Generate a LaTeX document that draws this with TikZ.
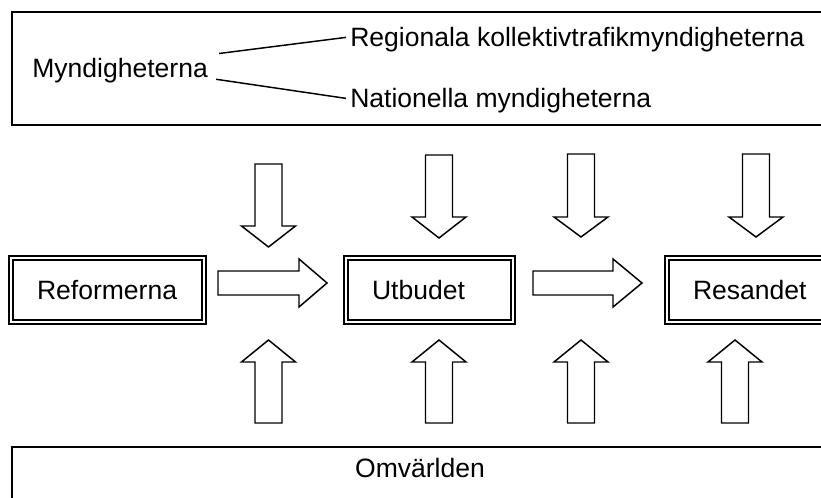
\documentclass[tikz,border=0pt]{standalone}
\usepackage{fontspec}
\setmainfont{Liberation Sans}
\usepackage{tikz}

% block arrows, coordinates in pixels
\newcommand{\pilvert}[4]{%
  \draw[block pil] (#1-13.5,#2) -- (#1-13.5,#3) -- (#1-27,#3) -- (#1,#4)
    -- (#1+27,#3) -- (#1+13.5,#3) -- (#1+13.5,#2) -- cycle;}
\newcommand{\pilhoger}[4]{%
  \draw[block pil] (#1,#4-12) -- (#2,#4-12) -- (#2,#4-24) -- (#3,#4)
    -- (#2,#4+24) -- (#2,#4+12) -- (#1,#4+12) -- cycle;}

\begin{document}
\begin{tikzpicture}[x=0.75pt,y=-0.75pt,
					font=\fontsize{19.9}{23}\selectfont,
					label node/.style={inner sep=0pt,text depth=0pt},
					main node/.style={draw,double,line width=1.5pt,double distance=1.5pt,
					  inner xsep=19.5pt,minimum height=48pt,align=left,
					  anchor=west,outer sep=0pt},
					frame/.style={draw,line width=1.5pt},
					block pil/.style={draw,line width=1.1pt,line join=miter},
					link/.style={line width=1.1pt}]

  \clip (0,0) rectangle (821,498);

  % Myndigheterna
  \draw[frame] (12,12) rectangle (840,125);
  \node[label node,anchor=base west] (mynd) at (32,78) {Myndigheterna};
  \node[label node,anchor=base west] (regional) at (350,47) {Regionala kollektivtrafikmyndigheterna};
  \node[label node,anchor=base west] (nationell) at (350,108) {Nationella myndigheterna};
  \draw[link] ([shift={(11,-5)}]mynd.north east) -- ([xshift=-3pt]regional.west);
  \draw[link] ([shift={(8,1)}]mynd.south east) -- ([xshift=-3pt]nationell.west);

  % kedjan
  \node[main node,text width=105.75pt] (reformerna) at (11,290) {Reformerna};
  \node[main node,text width=86.25pt] (utbudet) at (346,290) {Utbudet};
  \node[main node,text width=111pt] (resandet) at (667,290) {Resandet};

  \pilhoger{218}{299}{327}{283}
  \pilhoger{533}{613}{642}{283}

  \pilvert{268.5}{164}{226}{247}
  \pilvert{439}{155}{217}{238}
  \pilvert{581}{154}{217}{237}
  \pilvert{756}{154}{217}{237}

  \pilvert{268.5}{423}{362}{340}
  \pilvert{439}{423}{362}{340}
  \pilvert{581}{423}{362}{340}
  \pilvert{735}{423}{362}{340}

  % Omvärlden
  \draw[frame] (12,447) rectangle (840,530);
  \node[label node] (omv) at (420,468) {Omvärlden};
\end{tikzpicture}
\end{document}
